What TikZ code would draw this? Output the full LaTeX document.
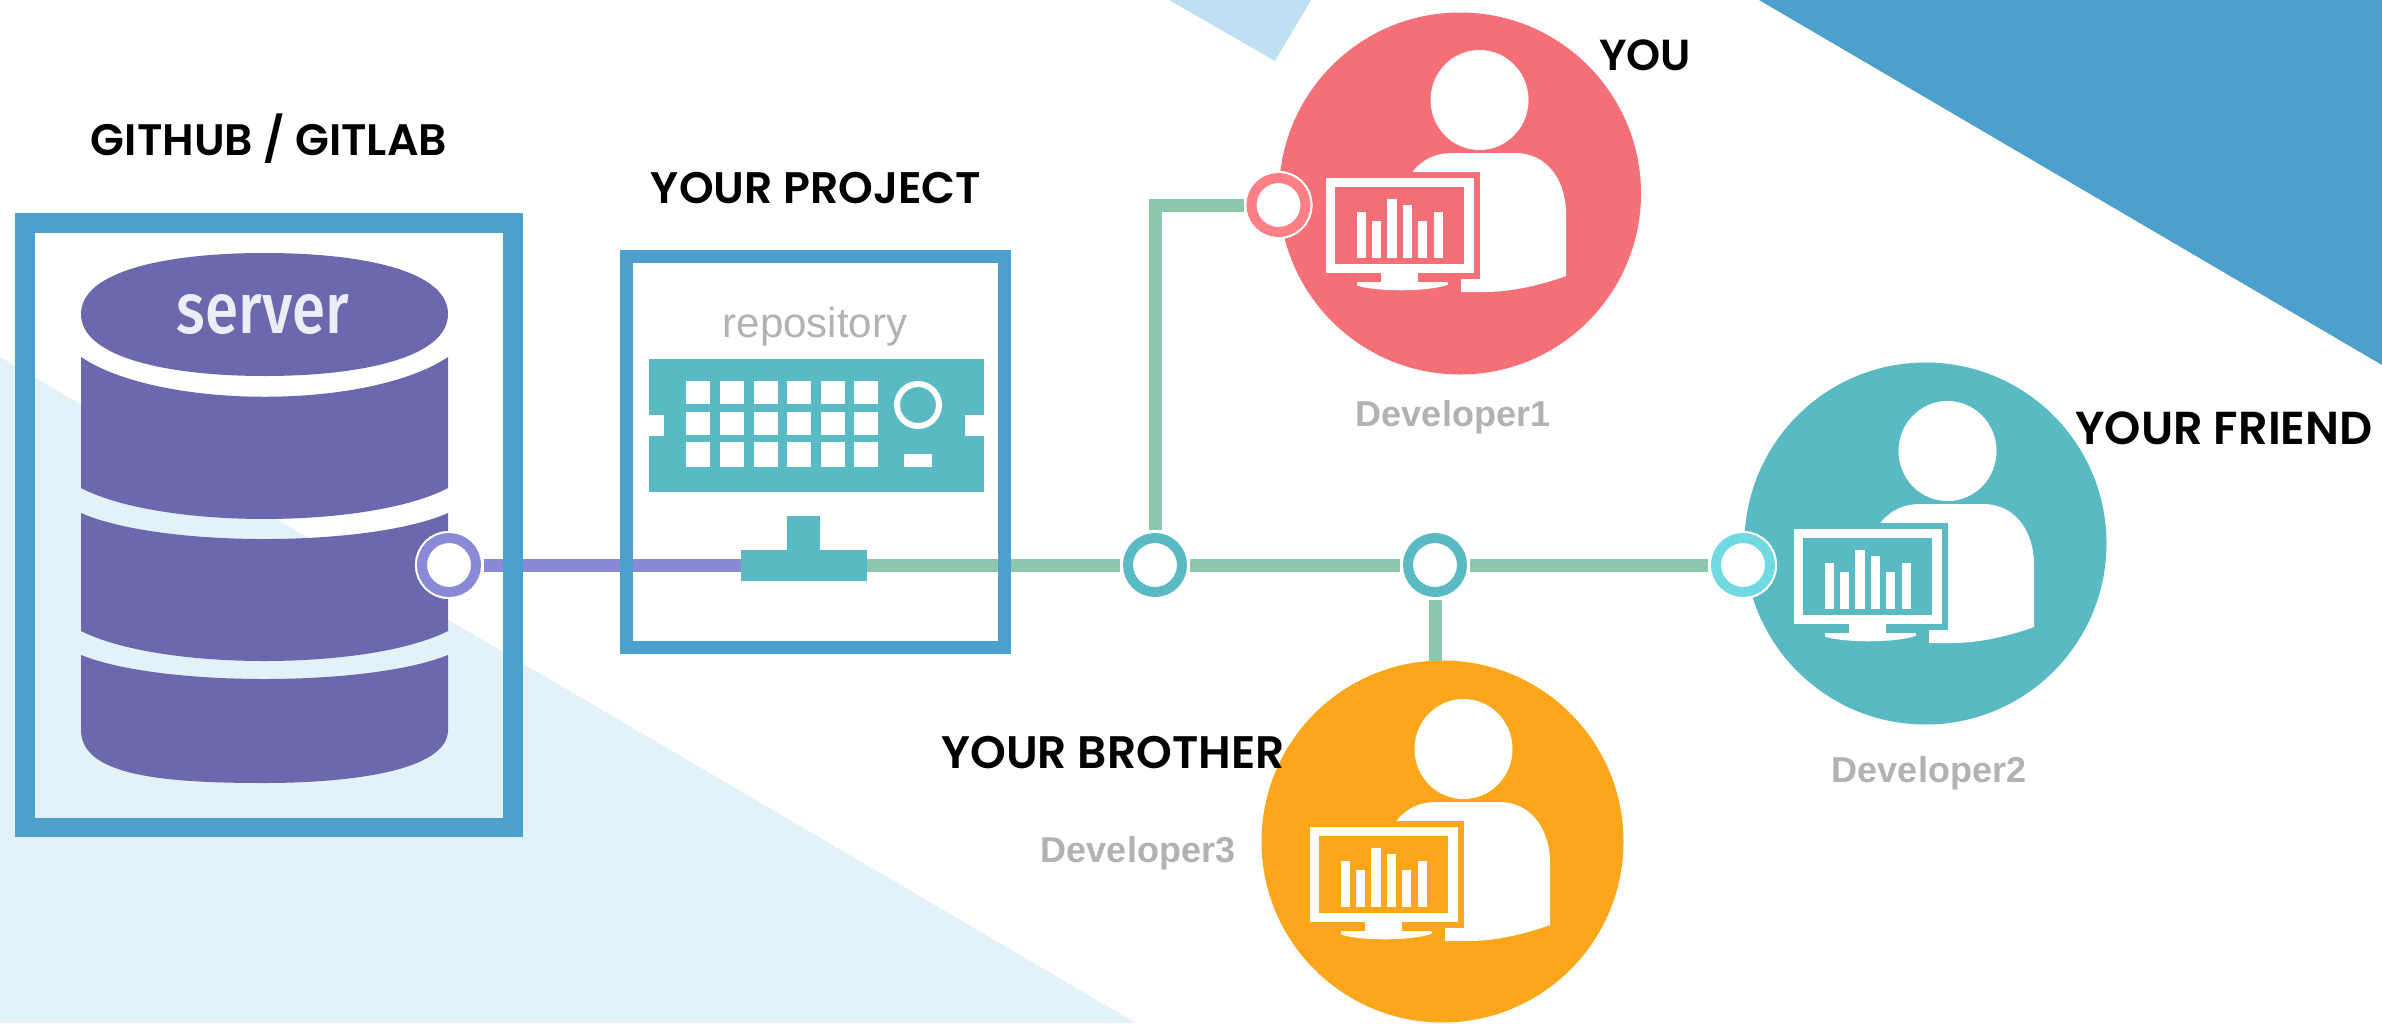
\documentclass[tikz,border=0pt]{standalone}
\usepackage{fontspec}
\usepackage{graphicx}
\setmainfont{Liberation Sans}
\newfontfamily\capsfont{Poppins SemiBold}
\newfontfamily\serverfont{Fira Sans Medium}
\definecolor{bluebox}{HTML}{4BA0CE}
\definecolor{palebg}{HTML}{E3F1F9}
\definecolor{paletop}{HTML}{BFDFF3}
\definecolor{cyl}{HTML}{6B68AD}
\definecolor{teal}{HTML}{5ABAC3}
\definecolor{linkgreen}{HTML}{8CC6AC}
\definecolor{linkpurple}{HTML}{8A89D8}
\definecolor{pinkdev}{HTML}{F56F77}
\definecolor{pinkring}{HTML}{FF7F87}
\definecolor{orangedev}{HTML}{FCA61C}
\definecolor{lightteal}{HTML}{70D9E2}
\definecolor{greytext}{HTML}{B2B2B2}
\definecolor{servertextcol}{HTML}{EDEDF8}
\newcommand{\caplabel}[2]{\resizebox{#1pt}{!}{\capsfont #2}}
\newcommand{\personicon}[3]{%
  \begin{scope}[shift={(#1,#2)}]
    \fill[white] (19.5,-93.5) ellipse [x radius=49, y radius=50];
    \fill[white] (-48,-21) .. controls (-38,-34) and (-25,-40.5) .. (-7,-40.5)
      -- (55,-40.5) .. controls (88,-40.5) and (106,-12) .. (106,20)
      -- (106,82.5) .. controls (80,92) and (50,98.5) .. (25,98.5) -- (1,98.5) -- (1,80) -- cycle;
    \fill[#3] (-134,-21.5) rectangle (20,85.5);
    \fill[white] (-134,-15.5) rectangle (14,79.5);
    \fill[#3] (-125,-6.5) rectangle (4,70.5);
    \foreach \xa/\xb/\yt in {-103/-94/18.5,-88/-79/27.5,-73/-63/5.5,-57/-48/11.5,-42/-33/27.5,-26/-17/18.5}
      \fill[white] (\xa,\yt) rectangle (\xb,64.5);
    \fill[white] (-79,79) rectangle (-42,90);
    \fill[white] (-103,90) .. controls (-103,88.5) .. (-100,88.5) -- (-15,88.5)
      .. controls (-12,88.5) .. (-12,91) .. controls (-30,98.5) and (-85,98.5) .. (-103,92) -- cycle;
  \end{scope}}
\tikzset{
  x=1pt,y=-1pt,
  boxframe/.style={draw=bluebox,fill=none,sharp corners},
  link/.style={line width=13pt,draw=linkgreen},
  purplelink/.style={line width=13pt,draw=linkpurple},
  ring/.style={circle,minimum size=54pt,inner sep=0pt,outer sep=8pt,draw=#1,fill=white,line width=10pt,
     preaction={draw=white,line width=14pt}},
  devcircle/.style={circle,minimum size=362pt,inner sep=0pt,outer sep=0pt,fill=#1},
  devlabel/.style={text=greytext,font=\fontsize{36}{36}\selectfont\bfseries,inner sep=0pt},
  caplab/.style={text=black,inner sep=0pt},
  cylpart/.style={fill=cyl},
  tealfill/.style={fill=teal},
}
\begin{document}
\begin{tikzpicture}
\useasboundingbox (0,0) rectangle (2382,1023);
\fill[white] (0,0) rectangle (2382,1023);
% background triangles
\fill[palebg] (0,357) -- (1136,1023) -- (0,1023) -- cycle;
\fill[bluebox] (1759,0) -- (2382,365) -- (2382,0) -- cycle;
\fill[paletop] (1169,0) -- (1275,61) -- (1311,0) -- cycle;

% server cylinder
\fill[cylpart] (81,314) .. controls (81,270) and (170,253) .. (264.5,253)
   .. controls (360,253) and (448,270) .. (448,314)
   .. controls (448,358) and (360,376) .. (264.5,376)
   .. controls (170,376) and (81,358) .. (81,314) -- cycle;
\fill[cylpart] (81,357) .. controls (160,410) and (369,410) .. (448,357) -- (448,488)
   .. controls (369,529.3) and (160,529.3) .. (81,488) -- cycle;
\fill[cylpart] (81,513) .. controls (160,547.7) and (369,547.7) .. (448,513) -- (448,631)
   .. controls (369,671) and (160,671) .. (81,631) -- cycle;
\fill[cylpart] (81,655) .. controls (160,687) and (369,687) .. (448,655) -- (448,730)
   .. controls (448,772) and (345,783) .. (264,783) .. controls (160,783) and (81,775) .. (81,730) -- cycle;
\node[text=servertextcol,inner sep=0pt] (servertext) at (263,315) {\resizebox{172pt}{39pt}{\serverfont server}};

% developer circles
\node[devcircle=pinkdev] (dev1) at (1460,193.5) {};
\node[devcircle=teal] (dev2) at (1925.5,543.5) {};
\node[devcircle=orangedev] (dev3) at (1442.5,841.5) {};

% monitor stand base and rings
\node[fill=teal,inner sep=0pt,minimum width=126pt,minimum height=31pt] (standbase) at (804,565) {};
\node[ring=linkpurple] (srv) at (449,565) {};
\node[ring=teal] (j1) at (1155,565) {};
\node[ring=teal] (j2) at (1435,565) {};
\node[ring=lightteal] (j3) at (1743,565) {};
\node[ring=pinkring] (r1) at (1278.5,205) {};

% connectors
\draw[purplelink] (srv.east) -- (standbase.west);
\draw[link] (standbase.east) -- (j1.west);
\draw[link] (j1.east) -- (j2.west);
\draw[link] (j2.east) -- (j3.west);
\draw[link] (j2.south) -- (j2.south |- dev3.north);
\draw[link,line join=miter] (r1.west) -| (j1.north);

% boxes
\draw[boxframe,line width=19.5pt] (24.75,222.75) rectangle (512.75,827.5);
\draw[boxframe,line width=13pt] (626.5,256.5) rectangle (1004.5,647.5);

% rings above frames and connectors
\node[ring=linkpurple] at (srv) {};

% repository monitor
\fill[tealfill] (649,359) rectangle (984,492);
\fill[white] (649,415) rectangle (664,436);
\fill[white] (965,415) rectangle (984,436);
\foreach \cx in {686,720,754,787,821,854}
  \foreach \cy/\ch in {381/23,412/23,442/25}
    \fill[white] (\cx,\cy) rectangle ++(24,\ch);
\draw[white,line width=6pt] (918,405) circle [radius=21];
\fill[white] (904,454) rectangle (932,467);
\fill[tealfill] (787,516) rectangle (820,552);
\node[fill=teal,inner sep=0pt,minimum width=126pt,minimum height=31pt] at (standbase) {};

% developer icons
\personicon{1460}{193.5}{pinkdev}
\personicon{1928}{544.5}{teal}
\personicon{1444}{842.5}{orangedev}

% rings above icons
\node[ring=pinkring] at (r1) {};
\node[ring=lightteal] at (j3) {};

% labels
\node[caplab] (lgit) at (269,139) {\caplabel{356}{GITHUB / GITLAB}};
\node[caplab] (lproj) at (816,188) {\caplabel{330}{YOUR PROJECT}};
\node[caplab] (lyou) at (1645,55) {\caplabel{92}{YOU}};
\node[caplab] (lfriend) at (2224,428) {\caplabel{297}{YOUR FRIEND}};
\node[caplab] (lbro) at (1113,753) {\caplabel{343}{YOUR BROTHER}};
\node[text=greytext,inner sep=0pt] (lrepo) at (815,327) {\fontsize{42}{42}\selectfont repository};
\node[devlabel] (ldev1) at (1453,417) {Developer1};
\node[devlabel] (ldev2) at (1929,773) {Developer2};
\node[devlabel] (ldev3) at (1138,853) {Developer3};
\end{tikzpicture}
\end{document}
